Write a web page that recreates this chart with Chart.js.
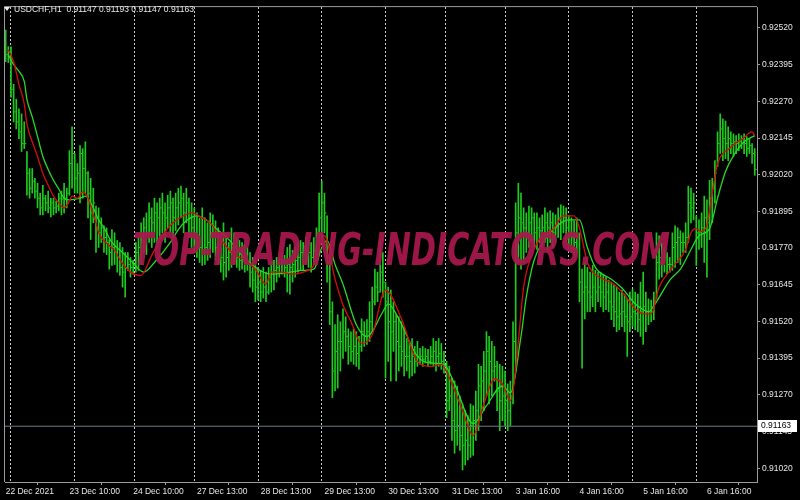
<!DOCTYPE html>
<html>
<head>
<meta charset="utf-8">
<script src="https://cdn.jsdelivr.net/npm/chart.js@4.4.0/dist/chart.umd.min.js"></script>
<style>
  html, body { margin: 0; padding: 0; background: #000; }
  #wrap { width: 800px; height: 500px; }
</style>
</head>
<body>
<div id="wrap"><canvas id="chart" width="800" height="500"></canvas></div>
<script>
// header / symbol info
const symbolTitle = "USDCHF,H1";
const lastBarOHLC = ["0.91147", "0.91193", "0.91147", "0.91163"];
const bidPrice = 0.91163;
const watermarkText = "TOP-TRADING-INDICATORS.COM";

// time axis (bar index -> label) and day separators
const timeLabelBars = [0, 24, 48, 72, 96, 120, 144, 168, 192, 216, 240, 264];
const timeLabels = ["22 Dec 2021", "23 Dec 10:00", "24 Dec 10:00", "27 Dec 13:00", "28 Dec 13:00",
  "29 Dec 13:00", "30 Dec 13:00", "31 Dec 13:00", "3 Jan 16:00", "4 Jan 16:00", "5 Jan 16:00", "6 Jan 16:00"];
const daySeparatorBars = [14, 38, 59, 83, 107, 131, 155, 176, 200, 224, 248, 272];

// price axis
const priceTicks = [0.92520, 0.92395, 0.92270, 0.92145, 0.92020, 0.91895, 0.91770,
  0.91645, 0.91520, 0.91395, 0.91270, 0.91145, 0.91020];

// H1 bars
const highs = [
  0.92513,0.92456,0.92456,0.92328,0.92277,0.92244,0.92227,0.92200,0.92099,0.92041,
  0.92041,0.92008,0.91991,0.91957,0.91984,0.91950,0.91964,0.91940,0.91940,0.91930,
  0.91957,0.91964,0.91991,0.91974,0.92102,0.92183,0.92092,0.92058,0.92119,0.92109,
  0.92132,0.92031,0.92008,0.91974,0.91913,0.91907,0.91873,0.91846,0.91839,0.91799,
  0.91833,0.91822,0.91796,0.91789,0.91772,0.91755,0.91755,0.91738,0.91728,0.91789,
  0.91806,0.91856,0.91873,0.91890,0.91924,0.91907,0.91940,0.91924,0.91940,0.91957,
  0.91924,0.91950,0.91964,0.91940,0.91957,0.91974,0.91981,0.91957,0.91974,0.91940,
  0.91924,0.91907,0.91890,0.91873,0.91907,0.91873,0.91856,0.91890,0.91883,0.91863,
  0.91839,0.91822,0.91856,0.91816,0.91789,0.91839,0.91822,0.91806,0.91796,0.91789,
  0.91782,0.91772,0.91755,0.91738,0.91711,0.91704,0.91694,0.91704,0.91688,0.91704,
  0.91721,0.91728,0.91738,0.91738,0.91755,0.91745,0.91772,0.91782,0.91762,0.91772,
  0.91789,0.91796,0.91789,0.91806,0.91796,0.91789,0.91806,0.91839,0.91957,0.91998,
  0.91957,0.91880,0.91755,0.91587,0.91509,0.91543,0.91519,0.91563,0.91536,0.91495,
  0.91485,0.91495,0.91485,0.91469,0.91529,0.91519,0.91526,0.91587,0.91637,0.91698,
  0.91688,0.91799,0.91755,0.91654,0.91637,0.91627,0.91587,0.91543,0.91536,0.91519,
  0.91502,0.91462,0.91452,0.91462,0.91435,0.91452,0.91428,0.91435,0.91428,0.91425,
  0.91435,0.91462,0.91452,0.91462,0.91445,0.91418,0.91384,0.91367,0.91327,0.91317,
  0.91300,0.91266,0.91239,0.91216,0.91199,0.91239,0.91233,0.91283,0.91374,0.91367,
  0.91418,0.91485,0.91469,0.91452,0.91435,0.91384,0.91374,0.91367,0.91351,0.91307,
  0.91317,0.91519,0.91924,0.91991,0.91957,0.91907,0.91890,0.91913,0.91907,0.91890,
  0.91890,0.91873,0.91883,0.91907,0.91890,0.91897,0.91890,0.91883,0.91907,0.91917,
  0.91913,0.91907,0.91880,0.91873,0.91863,0.91873,0.91822,0.91698,0.91721,0.91704,
  0.91688,0.91711,0.91694,0.91688,0.91688,0.91681,0.91671,0.91661,0.91654,0.91644,
  0.91637,0.91620,0.91627,0.91613,0.91597,0.91620,0.91630,0.91620,0.91613,0.91654,
  0.91688,0.91620,0.91597,0.91593,0.91620,0.91822,0.91812,0.91789,0.91772,0.91755,
  0.91738,0.91822,0.91846,0.91839,0.91829,0.91822,0.91856,0.91981,0.91974,0.91957,
  0.91880,0.91866,0.91890,0.91947,0.91934,0.92001,0.92008,0.92068,0.92166,0.92227,
  0.92210,0.92203,0.92183,0.92166,0.92159,0.92153,0.92159,0.92153,0.92159,0.92150,
  0.92143,0.92126,0.92109
];
const lows = [
  0.92405,0.92402,0.92284,0.92200,0.92176,0.92143,0.92099,0.92109,0.91950,0.91940,
  0.91957,0.91940,0.91907,0.91883,0.91883,0.91897,0.91890,0.91876,0.91883,0.91890,
  0.91897,0.91883,0.91890,0.91907,0.91950,0.91974,0.91957,0.91957,0.91924,0.91940,
  0.91957,0.91873,0.91799,0.91856,0.91755,0.91772,0.91789,0.91755,0.91748,0.91698,
  0.91711,0.91714,0.91688,0.91677,0.91637,0.91603,0.91694,0.91671,0.91681,0.91688,
  0.91694,0.91714,0.91755,0.91748,0.91789,0.91772,0.91789,0.91772,0.91806,0.91822,
  0.91789,0.91839,0.91822,0.91806,0.91829,0.91849,0.91873,0.91822,0.91856,0.91806,
  0.91772,0.91755,0.91738,0.91721,0.91711,0.91714,0.91728,0.91738,0.91755,0.91728,
  0.91714,0.91688,0.91661,0.91671,0.91694,0.91704,0.91714,0.91704,0.91694,0.91698,
  0.91688,0.91694,0.91637,0.91620,0.91587,0.91593,0.91587,0.91600,0.91587,0.91613,
  0.91620,0.91627,0.91654,0.91671,0.91681,0.91671,0.91620,0.91613,0.91654,0.91671,
  0.91688,0.91694,0.91694,0.91714,0.91704,0.91688,0.91714,0.91728,0.91755,0.91789,
  0.91822,0.91654,0.91509,0.91260,0.91283,0.91293,0.91351,0.91394,0.91418,0.91374,
  0.91384,0.91374,0.91367,0.91357,0.91418,0.91435,0.91442,0.91452,0.91485,0.91576,
  0.91587,0.91620,0.91603,0.91327,0.91384,0.91317,0.91418,0.91317,0.91351,0.91367,
  0.91334,0.91351,0.91327,0.91334,0.91344,0.91367,0.91374,0.91367,0.91378,0.91367,
  0.91374,0.91367,0.91351,0.91367,0.91357,0.91344,0.91192,0.91216,0.91115,0.91071,
  0.91098,0.91081,0.91014,0.91031,0.91048,0.91057,0.91064,0.91115,0.91148,0.91182,
  0.91216,0.91266,0.91239,0.91266,0.91317,0.91216,0.91148,0.91182,0.91165,0.91148,
  0.91165,0.91239,0.91351,0.91721,0.91698,0.91721,0.91755,0.91772,0.91789,0.91772,
  0.91765,0.91789,0.91772,0.91789,0.91765,0.91789,0.91772,0.91789,0.91806,0.91799,
  0.91822,0.91789,0.91772,0.91755,0.91745,0.91755,0.91587,0.91361,0.91529,0.91553,
  0.91553,0.91570,0.91553,0.91587,0.91570,0.91553,0.91560,0.91553,0.91526,0.91502,
  0.91485,0.91492,0.91502,0.91485,0.91401,0.91485,0.91502,0.91492,0.91485,0.91469,
  0.91442,0.91485,0.91509,0.91519,0.91526,0.91597,0.91664,0.91671,0.91688,0.91681,
  0.91688,0.91694,0.91704,0.91721,0.91714,0.91755,0.91755,0.91789,0.91856,0.91866,
  0.91711,0.91765,0.91772,0.91721,0.91671,0.91799,0.91856,0.91924,0.92048,0.92092,
  0.92068,0.92075,0.92068,0.92092,0.92082,0.92092,0.92102,0.92109,0.92092,0.92082,
  0.92092,0.92058,0.92018
];
const closes = [
  0.92429,0.92422,0.92311,0.92234,0.92200,0.92166,0.92126,0.92126,0.92025,0.91974,
  0.91998,0.91964,0.91940,0.91907,0.91940,0.91924,0.91907,0.91924,0.91907,0.91913,
  0.91940,0.91937,0.91940,0.91957,0.92058,0.92092,0.92008,0.92025,0.92092,0.92041,
  0.92025,0.91957,0.91890,0.91924,0.91839,0.91822,0.91839,0.91806,0.91789,0.91755,
  0.91772,0.91755,0.91738,0.91704,0.91688,0.91704,0.91714,0.91704,0.91714,0.91755,
  0.91772,0.91789,0.91839,0.91822,0.91873,0.91856,0.91890,0.91873,0.91907,0.91890,
  0.91873,0.91907,0.91924,0.91873,0.91907,0.91924,0.91940,0.91890,0.91924,0.91873,
  0.91839,0.91822,0.91789,0.91772,0.91755,0.91772,0.91789,0.91806,0.91822,0.91772,
  0.91755,0.91738,0.91721,0.91738,0.91755,0.91772,0.91755,0.91738,0.91728,0.91738,
  0.91721,0.91714,0.91688,0.91661,0.91637,0.91654,0.91620,0.91637,0.91620,0.91671,
  0.91688,0.91694,0.91704,0.91714,0.91721,0.91704,0.91714,0.91704,0.91714,0.91728,
  0.91738,0.91755,0.91748,0.91762,0.91755,0.91738,0.91762,0.91789,0.91873,0.91924,
  0.91890,0.91721,0.91553,0.91351,0.91418,0.91452,0.91452,0.91485,0.91469,0.91435,
  0.91418,0.91435,0.91411,0.91435,0.91485,0.91469,0.91485,0.91519,0.91587,0.91637,
  0.91620,0.91688,0.91654,0.91587,0.91519,0.91485,0.91519,0.91452,0.91435,0.91418,
  0.91401,0.91401,0.91384,0.91401,0.91384,0.91401,0.91401,0.91391,0.91401,0.91384,
  0.91401,0.91418,0.91401,0.91411,0.91384,0.91367,0.91250,0.91266,0.91182,0.91148,
  0.91165,0.91131,0.91098,0.91115,0.91098,0.91165,0.91182,0.91216,0.91300,0.91317,
  0.91351,0.91418,0.91384,0.91351,0.91367,0.91283,0.91250,0.91266,0.91250,0.91216,
  0.91266,0.91452,0.91822,0.91873,0.91856,0.91839,0.91822,0.91856,0.91873,0.91822,
  0.91839,0.91829,0.91839,0.91856,0.91839,0.91856,0.91822,0.91839,0.91873,0.91856,
  0.91873,0.91839,0.91822,0.91806,0.91789,0.91806,0.91654,0.91620,0.91637,0.91620,
  0.91603,0.91637,0.91620,0.91637,0.91620,0.91603,0.91620,0.91587,0.91570,0.91553,
  0.91536,0.91546,0.91553,0.91536,0.91519,0.91536,0.91553,0.91546,0.91526,0.91553,
  0.91570,0.91553,0.91553,0.91570,0.91587,0.91721,0.91738,0.91721,0.91738,0.91714,
  0.91714,0.91772,0.91789,0.91806,0.91789,0.91789,0.91806,0.91924,0.91907,0.91924,
  0.91822,0.91822,0.91839,0.91873,0.91856,0.91940,0.91974,0.92025,0.92126,0.92176,
  0.92143,0.92126,0.92143,0.92126,0.92132,0.92126,0.92132,0.92143,0.92126,0.92109,
  0.92119,0.92092,0.92038
];

// moving averages (bar index, price)
const fastMaBars = [1,3,5,7,8,10,12,14,16,18,20,22,24,25,27,29,31,33,34,35,39,41,43,47,51,55,59,63,67,70,
  74,77,82,86,90,94,98,100,104,108,112,116,120,124,127,130,134,138,143,149,155,160,164,168,172,176,180,184,187,190,
  191,193,195,198,202,206,210,214,216,219,221,225,229,233,237,240,243,246,251,256,258,260,262,264,266,268,270,272,275,278,
  280,281,282];
const fastMa = [0.92446,0.92405,0.92328,0.92261,0.92193,0.92132,0.92082,0.92025,0.91984,0.91947,0.91924,0.91907,0.91930,0.91947,0.91940,0.91961,0.91940,0.91883,0.91856,0.91822,
  0.91779,0.91762,0.91731,0.91688,0.91677,0.91745,0.91812,0.91856,0.91880,0.91890,0.91873,0.91856,0.91789,0.91748,0.91731,0.91698,0.91647,0.91688,0.91688,0.91681,
  0.91688,0.91711,0.91812,0.91664,0.91576,0.91519,0.91445,0.91475,0.91627,0.91529,0.91384,0.91367,0.91374,0.91307,0.91216,0.91131,0.91239,0.91324,0.91307,0.91250,
  0.91283,0.91452,0.91637,0.91745,0.91812,0.91833,0.91880,0.91880,0.91839,0.91721,0.91688,0.91664,0.91647,0.91610,0.91563,0.91546,0.91546,0.91637,0.91704,0.91765,
  0.91822,0.91836,0.91826,0.91849,0.91957,0.92058,0.92092,0.92106,0.92129,0.92146,0.92163,0.92166,0.92153];

const slowMaBars = [1,3,5,7,8,10,12,14,16,18,20,22,24,28,30,33,35,37,40,44,47,52,56,62,65,68,72,76,78,84,
  89,95,100,107,112,116,119,121,124,127,132,136,142,144,148,155,161,165,169,176,181,187,190,194,196,199,203,208,212,216,
  219,222,228,232,237,242,245,250,254,258,261,265,268,271,274,278,282];
const slowMa = [0.92429,0.92395,0.92372,0.92338,0.92277,0.92217,0.92150,0.92082,0.92038,0.92001,0.91971,0.91940,0.91934,0.91940,0.91947,0.91907,0.91866,0.91839,0.91789,0.91755,
  0.91728,0.91688,0.91721,0.91789,0.91833,0.91863,0.91880,0.91863,0.91846,0.91799,0.91745,0.91698,0.91681,0.91688,0.91694,0.91698,0.91772,0.91796,0.91714,0.91647,
  0.91509,0.91469,0.91553,0.91580,0.91529,0.91401,0.91378,0.91374,0.91307,0.91172,0.91233,0.91300,0.91277,0.91469,0.91603,0.91731,0.91799,0.91849,0.91866,0.91866,
  0.91772,0.91704,0.91664,0.91634,0.91580,0.91553,0.91587,0.91661,0.91698,0.91765,0.91812,0.91836,0.91940,0.92031,0.92085,0.92132,0.92153];

const xMin = -0.25, xMax = 282.85;
const yMin = 0.90973, yMax = 0.92591;

const barData = highs.map((h, i) => ({ x: i, y: [lows[i], h] }));
const closeTicks = closes.map((c, i) => ({ x: i + 0.45, y: c }));
const fastData = fastMaBars.map((b, k) => ({ x: b, y: fastMa[k] }));
const slowData = slowMaBars.map((b, k) => ({ x: b, y: slowMa[k] }));

const axisFont = { family: "'Liberation Sans', Arial, sans-serif", size: 8.5 };

const decorations = {
  id: 'decorations',
  afterDatasetsDraw(chart) {
    // watermark
    const c = chart.ctx;
    c.save();
    c.font = "italic bold 44px 'DejaVu Sans'";
    const w = c.measureText(watermarkText).width;
    c.translate(133, 265);
    c.scale(537 / w, 1);
    c.fillStyle = 'rgba(168, 24, 78, 0.93)';
    c.textBaseline = 'alphabetic';
    c.fillText(watermarkText, 0, 0);
    c.restore();
  },
  afterDraw(chart) {
    const c = chart.ctx;
    const a = chart.chartArea;
    c.save();
    // frame
    c.strokeStyle = '#9a9a9a';
    c.lineWidth = 1;
    c.beginPath();
    c.moveTo(a.left - 0.5, a.bottom);
    c.lineTo(a.left - 0.5, a.top - 0.5);
    c.lineTo(a.right, a.top - 0.5);
    c.stroke();
    // header
    c.fillStyle = '#e8e8e8';
    c.beginPath();
    c.moveTo(4, 7); c.lineTo(10, 7); c.lineTo(7, 11); c.closePath();
    c.fill();
    c.font = "8.5px 'Liberation Sans', Arial, sans-serif";
    c.textBaseline = 'middle';
    c.fillText(symbolTitle + '  ' + lastBarOHLC.join(' '), 14, 9.5);
    // bid price label
    const yb = chart.scales.y.getPixelForValue(bidPrice);
    c.fillStyle = '#ffffff';
    c.fillRect(a.right + 1, Math.round(yb) - 6, 39, 12);
    c.fillStyle = '#000000';
    c.fillText(bidPrice.toFixed(5), a.right + 4, Math.round(yb));
    c.restore();
  }
};

new Chart(document.getElementById('chart').getContext('2d'), {
  type: 'bar',
  data: {
    datasets: [
      { type: 'line', data: fastData, borderColor: '#d80c0c', borderWidth: 1.3, pointRadius: 0,
        cubicInterpolationMode: 'monotone', order: 0 },
      { type: 'line', data: slowData, borderColor: '#26d926', borderWidth: 1.3, pointRadius: 0,
        cubicInterpolationMode: 'monotone', order: 1 },
      { type: 'line', data: [{ x: xMin, y: bidPrice }, { x: xMax, y: bidPrice }], borderColor: '#6e7c89',
        borderWidth: 1, pointRadius: 0, order: 2 },
      { type: 'scatter', data: closeTicks, pointStyle: 'line', pointRadius: 0.8, borderColor: '#1ccc1c',
        borderWidth: 1, order: 3 },
      { type: 'bar', data: barData, backgroundColor: '#1ccc1c', barThickness: 1, order: 4 }
    ]
  },
  options: {
    responsive: false,
    animation: false,
    events: [],
    layout: { padding: { left: 2, top: 2, right: 0, bottom: 0 } },
    plugins: { legend: { display: false }, tooltip: { enabled: false } },
    scales: {
      x: {
        type: 'linear', min: xMin, max: xMax, offset: false,
        grid: { drawOnChartArea: false, tickLength: 3, color: '#9a9a9a' },
        border: { color: '#9a9a9a' },
        ticks: { color: '#e6e6e6', font: axisFont, align: 'start', padding: 2, maxRotation: 0,
          autoSkip: false, callback: (v, i) => timeLabels[i] },
        afterBuildTicks: s => { s.ticks = timeLabelBars.map(v => ({ value: v })); },
        afterFit: s => { s.height = 18; }
      },
      xSep: {
        type: 'linear', position: 'top', min: xMin, max: xMax, offset: false,
        grid: { drawOnChartArea: true, drawTicks: false, color: '#c8c8c8', lineWidth: 1 },
        border: { display: false, dash: [2, 2] },
        ticks: { display: false },
        afterBuildTicks: s => { s.ticks = daySeparatorBars.map(v => ({ value: v })); },
        afterFit: s => { s.height = 0; }
      },
      y: {
        type: 'linear', position: 'right', min: yMin, max: yMax,
        grid: { drawOnChartArea: false, tickLength: 3, color: '#9a9a9a' },
        border: { color: '#9a9a9a' },
        ticks: { color: '#e6e6e6', font: axisFont, padding: 2, autoSkip: false,
          callback: v => v.toFixed(5) },
        afterBuildTicks: s => { s.ticks = priceTicks.map(v => ({ value: v })); },
        afterFit: s => { s.width = 43; }
      }
    }
  },
  plugins: [decorations]
});
</script>
</body>
</html>
